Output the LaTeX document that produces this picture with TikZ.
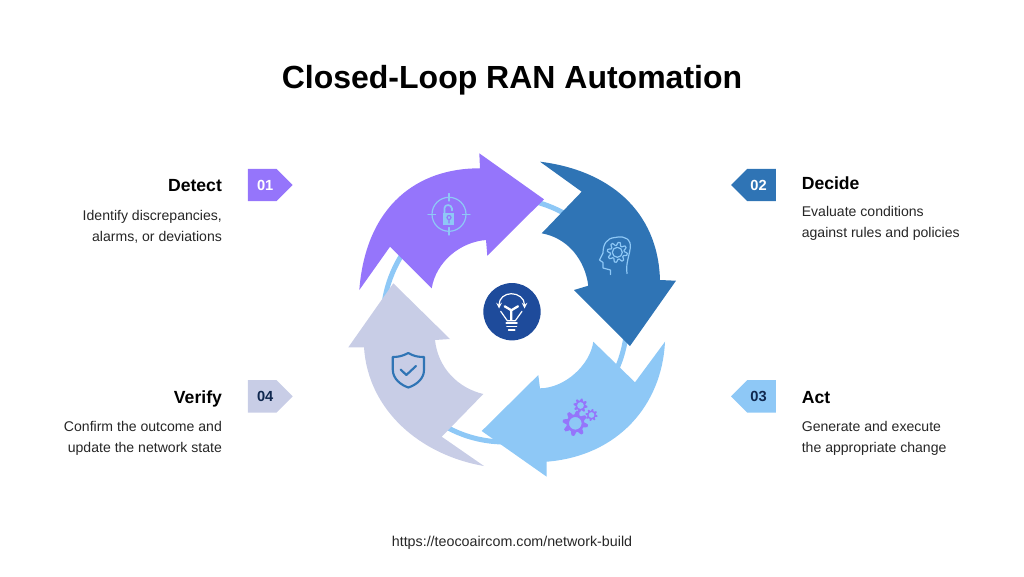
\documentclass[tikz,border=0pt]{standalone}
\usepackage{fontspec}
\setmainfont{Liberation Sans}
\usetikzlibrary{positioning}
\usetikzlibrary{shapes.symbols}

\definecolor{detectc}{HTML}{9575FB}
\definecolor{decidec}{HTML}{2F74B5}
\definecolor{actc}{HTML}{8EC8F6}
\definecolor{verifyc}{HTML}{C8CDE6}
\definecolor{hubc}{HTML}{1E4B9B}
\definecolor{inkc}{HTML}{10284F}

\newcommand{\gearicon}[4]{
    \path[#4, even odd rule, shift={(#1,#2)}]
        plot[domain=0:360, samples=65] (\x:{#3*(0.85+0.15*sign(sin(8*\x)))}) -- cycle
        (0,0) circle ({#3*0.5});
}

\begin{document}
\begin{tikzpicture}[
        x = 0.75pt,
        y = -0.75pt,
        badge/.style = {
            signal,
            signal pointer angle = 90,
            minimum width = 33.6pt,
            minimum height = 24.3pt,
            inner sep = 0pt,
            outer sep = 0pt,
            font = \fontsize{11}{12}\selectfont\bfseries
        },
        badgel/.style = {badge, signal to = east, fill=#1},
        badger/.style = {badge, signal to = west, fill=#1},
        head/.style = {
            inner sep = 0pt,
            text height = 12.5pt,
            text depth = 3pt,
            font = \fontsize{13.2}{15}\selectfont\bfseries
        },
        desc/.style = {
            inner sep = 0pt,
            text = black!85,
            font = \fontsize{10.55}{15.75}\selectfont
        },
        loop/.style = {fill=#1},
        thinicon/.style = {draw=#1, line width = 0.9pt, line join = round, line cap = round}
    ]
    \useasboundingbox (0,0) rectangle (1024,576);

    \node[font=\fontsize{24}{28}\selectfont\bfseries] (title) at (512,80) {Closed-Loop RAN Automation};
    \node[font=\fontsize{10.7}{12}\selectfont, text=black!85] (link) at (512,543) {https://teocoaircom.com/network-build};

    % ring behind the arrows
    \draw[actc, line width = 3.75pt] (505,320) circle (122);

    % arrows
    \fill[loop=detectc] (359.3,290) .. controls (366,205) and (418,168) .. (480,168.3)
        -- (479.3,153.3) -- (544,199.3) -- (487.3,255.7) -- (486,240)
        .. controls (460,242) and (436,262) .. (431.7,288.3) -- (390,246.7) -- cycle;
    \fill[loop=decidec] (540,161.7) .. controls (608,170) and (658,210) .. (660,280)
        -- (676,280.7) -- (630,346) -- (574,290) -- (588.3,285.7)
        .. controls (585,260) and (568,238) .. (541.7,233.3) -- (581.7,191.7) -- cycle;
    \fill[loop=actc] (665,341.7) .. controls (662,405) and (618,456) .. (546.7,461.7)
        -- (546.7,476.7) -- (481.7,431) -- (538.3,375) -- (540,388.3)
        .. controls (565,388) and (590,365) .. (593.3,341.7) -- (635,382.3) -- cycle;
    \fill[loop=verifyc] (484,466) .. controls (420,455) and (368,410) .. (364,347.3)
        -- (348.3,347.3) -- (393.3,283.3) -- (450,339) -- (435,340)
        .. controls (438,368) and (458,388) .. (483.3,394) -- (441.7,436.7) -- cycle;

    % centre bulb
    \node[circle, fill=hubc, minimum size=43pt, inner sep=0pt] (hub) at (512,311.7) {};
    \draw[thinicon=white, stealth-stealth] (499,308.5) .. controls (499,298) and (505,293.7) .. (511.3,293.7)
        .. controls (518,293.7) and (524.5,298) .. (524.5,308.5);
    \draw[thinicon=white] (500.7,311.3) -- (507.3,320.7) -- (515.3,320.7) -- (522,311.3);
    \draw[thinicon=white, line width=1.7pt] (504.7,306.3) -- (511.3,310.3) -- (518,306.3) (511.3,310.3) -- (511.3,319.7);
    \draw[thinicon=white, line width=1.4pt] (506.3,323.3) -- (517,323.3) (507,326.5) -- (516.5,326.5) (508.7,329.7) -- (514.7,329.7);

    % detect icon
    \draw[thinicon=actc] (449,214.3) circle (17);
    \draw[thinicon=actc] (449,193.5) -- (449,201) (449,227.5) -- (449,235) (428,214.3) -- (435.5,214.3) (462.5,214.3) -- (470,214.3);
    \fill[actc] (442.7,213.3) rectangle (454.3,225);
    \draw[thinicon=actc, line width=1.3pt] (444.5,213) -- (444.5,208) .. controls (444.5,204) and (451.5,204) .. (452,208.5) -- (452,210.5);
    \draw[thinicon=detectc, line width=0.9pt] (449,217.5) circle (2) (449,219.5) -- (449,223);

    % decide icon
    \gearicon{617.3}{252.3}{10}{thinicon=actc}
    \draw[thinicon=actc] (627,273.5) .. controls (625,262) and (632,250) .. (630,243)
        .. controls (627,235) and (618,237) .. (615,237.5) .. controls (607,238) and (603,244) .. (603,253)
        -- (599.5,260) -- (603,262.5) -- (603,268) -- (610.5,270) -- (610.5,274.5);

    % act icon
    \gearicon{575.3}{423.3}{12.7}{fill=detectc}
    \gearicon{580.5}{405.5}{7}{fill=detectc}
    \gearicon{591.5}{415}{6}{fill=detectc}

    % verify icon
    \draw[thinicon=decidec, line width=1.6pt] (408.3,353) .. controls (402,356.5) and (397,357) .. (392.8,357)
        -- (392.8,370) .. controls (393,379) and (401,385) .. (408.3,387.5)
        .. controls (416,385) and (424,379) .. (424,370) -- (424,357)
        .. controls (419,357) and (414,356.5) .. (408.3,353) -- cycle;
    \draw[thinicon=decidec, line width=1.6pt] (400.7,369.5) -- (406.3,375) -- (416,366);

    % steps
    \node[badgel=detectc, text=white] (one) at (262.2,185) {\hspace{4.5pt}01};
    \node[badger=decidec, text=white] (two) at (761.5,185) {\hspace{-4.5pt}02};
    \node[badger=actc, text=inkc] (three) at (761.5,396.3) {\hspace{-4.5pt}03};
    \node[badgel=verifyc, text=inkc] (four) at (262.2,396.3) {\hspace{4.5pt}04};

    \node[head, left=19.3pt of one] (detect) {Detect};
    \node[head, right=19.3pt of two, yshift=1.7pt] (decide) {Decide};
    \node[head, right=19.3pt of three, yshift=-0.75pt] (act) {Act};
    \node[head, left=19.3pt of four, yshift=-0.75pt] (verify) {Verify};

    \node[desc, align=right, below left=11pt and 0pt of detect.south east] (detecttext) {Identify discrepancies,\\alarms, or deviations};
    \node[desc, align=left, below right=9.75pt and 0pt of decide.south west] (decidetext) {Evaluate conditions\\against rules and policies};
    \node[desc, align=left, below right=9.75pt and 0pt of act.south west] (acttext) {Generate and execute\\the appropriate change};
    \node[desc, align=right, below left=9.75pt and 0pt of verify.south east] (verifytext) {Confirm the outcome and\\update the network state};
\end{tikzpicture}
\end{document}
